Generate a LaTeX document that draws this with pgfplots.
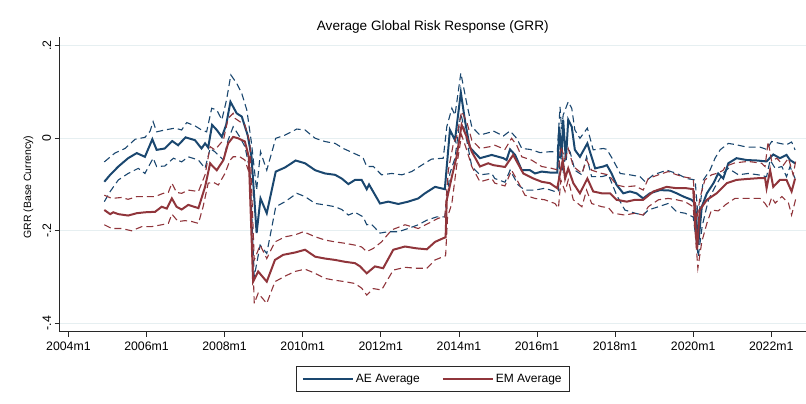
\documentclass[border=0pt]{standalone}
\usepackage{fontspec}
\setmainfont{Liberation Sans}
\usepackage{pgfplots}
\pgfplotsset{compat=1.18}
\definecolor{aeblue}{RGB}{26,71,111}
\definecolor{emred}{RGB}{144,53,59}
\definecolor{gridc}{RGB}{230,239,241}
\definecolor{axc}{RGB}{40,40,40}
\begin{document}
\begin{tikzpicture}
\useasboundingbox (-59.6pt,-72.3pt) rectangle (746.4pt,331.7pt);
\begin{axis}[
  at={(0pt,0pt)}, anchor=south west,
  scale only axis, width=746.4pt, height=295pt,
  xmin=2003.775, xmax=2022.889,
  ymin=-0.4182, ymax=0.2197,
  axis lines=left,
  axis line style={-, draw=axc, line width=0.8pt},
  tick align=outside, major tick length=5pt,
  tick style={axc, line width=0.7pt},
  xtick={2004,2006,2008,2010,2012,2014,2016,2018,2020,2022},
  xticklabels={2004m1,2006m1,2008m1,2010m1,2012m1,2014m1,2016m1,2018m1,2020m1,2022m1},
  ytick={-0.4,-0.2,0,0.2},
  yticklabels={-.4,-.2,0,.2},
  xticklabel style={font=\fontsize{12.3}{14}\selectfont, yshift=-2pt},
  yticklabel style={font=\fontsize{12.3}{14}\selectfont, rotate=90, anchor=south},
  ymajorgrids, grid style={gridc, line width=0.9pt},
  ylabel={GRR (Base Currency)},
  every axis y label/.style={at={(axis description cs:0,0.49)}, xshift=-31.3pt, rotate=90, anchor=center, font=\fontsize{10.5}{12}\selectfont},
  title={Average Global Risk Response (GRR)},
  every axis title/.style={at={(axis description cs:0.5,1)}, anchor=center, yshift=9.7pt, font=\fontsize{13.6}{15}\selectfont},
  legend columns=2,
  legend style={at={(axis description cs:0.5,-0.116)}, anchor=north, draw=axc, line width=0.7pt,
    font=\fontsize{12}{14}\selectfont, inner xsep=6pt, inner ysep=5.5pt,
    /tikz/every even column/.append style={column sep=20pt}},
  legend image code/.code={\draw[#1, line width=2pt] (0pt,0pt) -- (50pt,0pt);},
  clip=false,
]
% AE lower
\addplot[aeblue, line width=1.1pt, dash pattern=on 7pt off 4pt, forget plot] coordinates {
(2004.92,-0.137) (2005.07,-0.115) (2005.28,-0.090) (2005.53,-0.076) (2005.79,-0.065) (2005.96,-0.076)
(2006.17,-0.043) (2006.26,-0.061) (2006.47,-0.060) (2006.69,-0.043) (2006.90,-0.051) (2007.07,-0.040)
(2007.33,-0.047) (2007.50,-0.065) (2007.63,-0.022) (2007.75,-0.029) (2007.97,-0.047) (2008.09,-0.004)
(2008.22,0.025) (2008.39,0.003) (2008.52,-0.018) (2008.65,-0.069) (2008.76,-0.299) (2008.91,-0.231)
(2009.08,-0.249) (2009.31,-0.148) (2009.55,-0.137) (2009.85,-0.119) (2010.06,-0.126) (2010.32,-0.141)
(2010.57,-0.144) (2010.83,-0.148) (2011.00,-0.154) (2011.17,-0.166) (2011.34,-0.160) (2011.55,-0.170)
(2011.64,-0.187) (2011.75,-0.185) (2011.98,-0.205) (2012.19,-0.202) (2012.45,-0.202) (2012.70,-0.195)
(2012.96,-0.187) (2013.18,-0.177) (2013.43,-0.170) (2013.64,-0.170) (2013.77,-0.076) (2013.90,-0.043)
(2014.05,0.054) (2014.20,-0.004) (2014.33,-0.061) (2014.54,-0.079) (2014.84,-0.076) (2014.92,-0.087)
(2015.18,-0.095) (2015.31,-0.069) (2015.52,-0.101) (2015.69,-0.112) (2015.95,-0.112) (2016.20,-0.108)
(2016.46,-0.115) (2016.55,-0.115) (2016.59,-0.025) (2016.67,-0.076) (2016.76,-0.015) (2016.85,-0.030)
(2016.97,-0.069) (2017.15,-0.079) (2017.27,-0.040) (2017.40,-0.083) (2017.66,-0.083) (2017.83,-0.079)
(2018.04,-0.123) (2018.25,-0.155) (2018.51,-0.162) (2018.72,-0.166) (2018.85,-0.155) (2019.11,-0.148)
(2019.36,-0.141) (2019.58,-0.159) (2019.79,-0.162) (2020.00,-0.170) (2020.13,-0.256) (2020.23,-0.190)
(2020.39,-0.133) (2020.56,-0.105) (2020.77,-0.075) (2020.90,-0.065) (2021.16,-0.079) (2021.41,-0.076)
(2021.67,-0.079) (2021.88,-0.083) (2021.97,-0.047) (2022.10,-0.065) (2022.27,-0.061) (2022.39,-0.083)
(2022.48,-0.061) (2022.61,-0.087)
};
% AE upper
\addplot[aeblue, line width=1.1pt, dash pattern=on 7pt off 4pt, forget plot] coordinates {
(2004.92,-0.051) (2005.19,-0.032) (2005.45,-0.022) (2005.71,-0.002) (2005.96,0.002) (2006.09,0.015)
(2006.17,0.036) (2006.26,0.014) (2006.47,0.018) (2006.73,0.022) (2006.90,0.018) (2007.03,0.034)
(2007.24,0.027) (2007.41,0.018) (2007.54,0.014) (2007.67,0.065) (2007.80,0.061) (2007.93,0.040)
(2008.05,0.083) (2008.16,0.137) (2008.31,0.119) (2008.44,0.097) (2008.57,0.061) (2008.69,-0.011)
(2008.82,-0.112) (2008.92,-0.029) (2009.08,-0.069) (2009.31,0.000) (2009.55,0.007) (2009.85,0.020)
(2010.06,0.018) (2010.32,0.000) (2010.57,-0.007) (2010.83,-0.011) (2011.04,-0.022) (2011.30,-0.032)
(2011.51,-0.040) (2011.55,-0.043) (2011.64,-0.061) (2011.81,-0.061) (2012.02,-0.079) (2012.28,-0.076)
(2012.54,-0.079) (2012.79,-0.072) (2013.05,-0.058) (2013.30,-0.045) (2013.60,-0.043) (2013.69,0.025)
(2013.82,0.065) (2013.90,0.050) (2014.05,0.141) (2014.20,0.076) (2014.33,0.025) (2014.54,0.007)
(2014.84,0.014) (2014.88,0.016) (2015.14,0.005) (2015.31,0.016) (2015.48,0.000) (2015.61,-0.022)
(2015.82,-0.024) (2016.08,-0.031) (2016.33,-0.029) (2016.52,-0.029) (2016.59,0.068) (2016.63,0.020)
(2016.67,0.050) (2016.80,0.079) (2016.89,0.065) (2016.97,0.018) (2017.10,0.000) (2017.29,0.022)
(2017.44,-0.025) (2017.70,-0.022) (2017.79,-0.024) (2017.95,-0.047) (2018.13,-0.076) (2018.38,-0.079)
(2018.64,-0.083) (2018.77,-0.094) (2018.98,-0.079) (2019.32,-0.069) (2019.58,-0.076) (2019.83,-0.087)
(2020.05,-0.090) (2020.13,-0.177) (2020.26,-0.090) (2020.43,-0.069) (2020.56,-0.043) (2020.69,-0.025)
(2020.90,-0.011) (2021.11,-0.014) (2021.37,-0.019) (2021.71,-0.019) (2021.88,-0.024) (2022.01,-0.007)
(2022.22,-0.011) (2022.39,-0.014) (2022.52,-0.008) (2022.61,-0.025)
};
% AE average
\addplot[aeblue, line width=2pt] coordinates {
(2004.92,-0.094) (2005.07,-0.079) (2005.28,-0.061) (2005.53,-0.043) (2005.75,-0.032) (2005.96,-0.040)
(2006.15,-0.002) (2006.26,-0.025) (2006.47,-0.022) (2006.66,-0.006) (2006.81,-0.015) (2007.00,0.002)
(2007.24,-0.004) (2007.41,-0.022) (2007.50,-0.011) (2007.58,-0.020) (2007.68,0.029) (2007.80,0.018)
(2007.93,0.003) (2008.04,0.029) (2008.15,0.079) (2008.31,0.054) (2008.44,0.047) (2008.59,0.007)
(2008.69,-0.040) (2008.82,-0.205) (2008.92,-0.130) (2009.08,-0.162) (2009.31,-0.072) (2009.55,-0.063)
(2009.82,-0.048) (2010.06,-0.054) (2010.32,-0.069) (2010.57,-0.076) (2010.83,-0.079) (2011.00,-0.087)
(2011.17,-0.099) (2011.34,-0.090) (2011.51,-0.090) (2011.64,-0.110) (2011.70,-0.100) (2011.98,-0.141)
(2012.19,-0.137) (2012.45,-0.142) (2012.70,-0.137) (2012.96,-0.130) (2013.13,-0.119) (2013.39,-0.105)
(2013.64,-0.110) (2013.77,0.018) (2013.90,-0.004) (2014.05,0.099) (2014.16,0.036) (2014.28,-0.020)
(2014.54,-0.043) (2014.84,-0.036) (2015.14,-0.043) (2015.22,-0.047) (2015.31,-0.024) (2015.44,-0.036)
(2015.61,-0.069) (2015.82,-0.069) (2015.95,-0.076) (2016.12,-0.072) (2016.33,-0.074) (2016.52,-0.074)
(2016.57,0.025) (2016.63,-0.040) (2016.67,0.040) (2016.74,-0.047) (2016.80,0.040) (2016.89,0.025)
(2016.97,-0.025) (2017.10,-0.040) (2017.29,-0.011) (2017.49,-0.065) (2017.70,-0.061) (2017.79,-0.058)
(2017.91,-0.076) (2018.04,-0.101) (2018.21,-0.119) (2018.38,-0.115) (2018.55,-0.119) (2018.72,-0.130)
(2018.89,-0.119) (2019.15,-0.112) (2019.41,-0.113) (2019.58,-0.119) (2019.75,-0.126) (2019.96,-0.133)
(2020.05,-0.141) (2020.13,-0.230) (2020.22,-0.148) (2020.35,-0.119) (2020.52,-0.097) (2020.64,-0.076)
(2020.77,-0.087) (2020.90,-0.054) (2021.11,-0.043) (2021.37,-0.047) (2021.63,-0.048) (2021.88,-0.050)
(2022.05,-0.035) (2022.22,-0.043) (2022.39,-0.036) (2022.48,-0.047) (2022.61,-0.054)
};
\addlegendentry{AE Average}
% EM lower
\addplot[emred, line width=1.1pt, dash pattern=on 7pt off 4pt, forget plot] coordinates {
(2004.92,-0.187) (2005.11,-0.195) (2005.36,-0.195) (2005.62,-0.200) (2005.88,-0.191) (2006.13,-0.191)
(2006.39,-0.187) (2006.56,-0.184) (2006.65,-0.164) (2006.81,-0.180) (2006.99,-0.178) (2007.16,-0.180)
(2007.33,-0.184) (2007.45,-0.148) (2007.58,-0.097) (2007.71,-0.095) (2007.84,-0.101) (2008.01,-0.076)
(2008.14,-0.047) (2008.22,-0.040) (2008.39,-0.040) (2008.52,-0.047) (2008.65,-0.080) (2008.76,-0.357)
(2008.86,-0.335) (2009.08,-0.357) (2009.29,-0.310) (2009.55,-0.298) (2009.80,-0.288) (2010.06,-0.283)
(2010.32,-0.292) (2010.57,-0.303) (2010.83,-0.307) (2011.08,-0.310) (2011.34,-0.314) (2011.51,-0.324)
(2011.64,-0.339) (2011.81,-0.325) (2012.02,-0.328) (2012.32,-0.285) (2012.62,-0.279) (2012.92,-0.281)
(2013.18,-0.281) (2013.39,-0.263) (2013.60,-0.256) (2013.66,-0.254) (2013.71,-0.170) (2013.82,-0.141)
(2013.94,-0.061) (2014.07,0.007) (2014.20,-0.025) (2014.33,-0.061) (2014.54,-0.094) (2014.84,-0.087)
(2014.92,-0.097) (2015.18,-0.103) (2015.35,-0.069) (2015.52,-0.095) (2015.69,-0.123) (2015.95,-0.130)
(2016.20,-0.133) (2016.46,-0.141) (2016.55,-0.151) (2016.61,-0.090) (2016.72,-0.115) (2016.80,-0.090)
(2016.93,-0.133) (2017.15,-0.148) (2017.27,-0.112) (2017.40,-0.141) (2017.66,-0.148) (2017.83,-0.150)
(2017.95,-0.162) (2018.25,-0.166) (2018.51,-0.162) (2018.72,-0.166) (2018.85,-0.148) (2019.11,-0.133)
(2019.36,-0.130) (2019.58,-0.133) (2019.79,-0.137) (2020.00,-0.148) (2020.12,-0.281) (2020.22,-0.224)
(2020.35,-0.184) (2020.47,-0.155) (2020.64,-0.157) (2020.77,-0.148) (2020.82,-0.144) (2021.07,-0.130)
(2021.41,-0.130) (2021.71,-0.130) (2021.84,-0.141) (2021.92,-0.151) (2022.01,-0.128) (2022.10,-0.140)
(2022.27,-0.126) (2022.44,-0.140) (2022.52,-0.166) (2022.63,-0.130)
};
% EM upper
\addplot[emred, line width=1.1pt, dash pattern=on 7pt off 4pt, forget plot] coordinates {
(2004.92,-0.123) (2005.11,-0.130) (2005.36,-0.128) (2005.53,-0.132) (2005.75,-0.126) (2005.96,-0.126)
(2006.22,-0.126) (2006.43,-0.119) (2006.56,-0.117) (2006.65,-0.097) (2006.77,-0.117) (2006.90,-0.119)
(2007.07,-0.112) (2007.33,-0.115) (2007.50,-0.079) (2007.63,-0.018) (2007.75,-0.025) (2007.97,-0.004)
(2008.09,0.043) (2008.22,0.054) (2008.27,0.043) (2008.39,0.036) (2008.52,0.029) (2008.65,-0.010)
(2008.76,-0.263) (2008.91,-0.231) (2009.08,-0.260) (2009.29,-0.224) (2009.55,-0.213) (2009.80,-0.209)
(2010.02,-0.202) (2010.32,-0.213) (2010.57,-0.220) (2010.83,-0.224) (2011.08,-0.227) (2011.34,-0.231)
(2011.51,-0.235) (2011.64,-0.245) (2011.81,-0.238) (2012.02,-0.224) (2012.28,-0.198) (2012.62,-0.187)
(2012.96,-0.195) (2013.22,-0.184) (2013.47,-0.173) (2013.64,-0.170) (2013.73,-0.069) (2013.86,-0.011)
(2013.94,0.003) (2014.07,0.058) (2014.20,0.036) (2014.33,-0.004) (2014.54,-0.022) (2014.80,-0.018)
(2014.92,-0.015) (2015.18,-0.024) (2015.35,0.000) (2015.48,-0.015) (2015.61,-0.040) (2015.86,-0.047)
(2016.12,-0.061) (2016.38,-0.065) (2016.55,-0.069) (2016.61,-0.018) (2016.72,-0.045) (2016.80,-0.022)
(2016.93,-0.061) (2017.15,-0.076) (2017.27,-0.047) (2017.40,-0.069) (2017.66,-0.076) (2017.83,-0.079)
(2018.04,-0.101) (2018.25,-0.105) (2018.51,-0.103) (2018.72,-0.112) (2018.85,-0.087) (2019.11,-0.079)
(2019.36,-0.072) (2019.58,-0.079) (2019.79,-0.084) (2020.00,-0.087) (2020.09,-0.177) (2020.17,-0.130)
(2020.30,-0.090) (2020.47,-0.079) (2020.64,-0.075) (2020.77,-0.069) (2020.82,-0.061) (2021.07,-0.053)
(2021.41,-0.050) (2021.75,-0.054) (2021.84,-0.061) (2021.92,-0.007) (2022.01,-0.050) (2022.14,-0.043)
(2022.31,-0.058) (2022.44,-0.043) (2022.56,-0.079) (2022.63,-0.047)
};
% EM average
\addplot[emred, line width=2pt] coordinates {
(2004.92,-0.155) (2005.07,-0.164) (2005.15,-0.160) (2005.28,-0.164) (2005.53,-0.167) (2005.75,-0.162)
(2005.96,-0.160) (2006.22,-0.159) (2006.39,-0.148) (2006.52,-0.152) (2006.65,-0.130) (2006.77,-0.148)
(2006.90,-0.154) (2007.07,-0.144) (2007.33,-0.151) (2007.50,-0.105) (2007.63,-0.054) (2007.69,-0.060)
(2007.80,-0.069) (2007.97,-0.047) (2008.09,-0.011) (2008.22,0.003) (2008.35,0.000) (2008.52,-0.007)
(2008.62,-0.040) (2008.73,-0.310) (2008.86,-0.288) (2009.08,-0.310) (2009.29,-0.263) (2009.50,-0.252)
(2009.80,-0.247) (2010.06,-0.241) (2010.32,-0.256) (2010.57,-0.260) (2010.83,-0.263) (2011.08,-0.267)
(2011.34,-0.270) (2011.47,-0.277) (2011.64,-0.292) (2011.85,-0.277) (2012.06,-0.281) (2012.32,-0.241)
(2012.62,-0.234) (2012.92,-0.238) (2013.18,-0.240) (2013.39,-0.224) (2013.60,-0.216) (2013.66,-0.214)
(2013.69,-0.133) (2013.82,-0.083) (2013.94,-0.040) (2014.07,0.029) (2014.20,0.003) (2014.33,-0.029)
(2014.54,-0.061) (2014.75,-0.054) (2014.88,-0.058) (2015.18,-0.062) (2015.39,-0.036) (2015.65,-0.076)
(2015.91,-0.087) (2016.12,-0.094) (2016.33,-0.097) (2016.52,-0.108) (2016.59,-0.076) (2016.66,-0.047)
(2016.72,-0.087) (2016.80,-0.065) (2016.93,-0.097) (2017.10,-0.119) (2017.29,-0.087) (2017.44,-0.115)
(2017.66,-0.119) (2017.87,-0.119) (2018.04,-0.133) (2018.30,-0.137) (2018.51,-0.133) (2018.72,-0.133)
(2018.98,-0.115) (2019.32,-0.105) (2019.58,-0.108) (2019.83,-0.108) (2020.00,-0.110) (2020.10,-0.240)
(2020.17,-0.155) (2020.35,-0.133) (2020.60,-0.119) (2020.86,-0.097) (2021.11,-0.090) (2021.37,-0.088)
(2021.71,-0.086) (2021.84,-0.086) (2021.88,-0.108) (2021.97,-0.069) (2022.05,-0.105) (2022.22,-0.090)
(2022.39,-0.090) (2022.52,-0.115) (2022.61,-0.087)
};
\addlegendentry{EM Average}
\end{axis}
\end{tikzpicture}
\end{document}
